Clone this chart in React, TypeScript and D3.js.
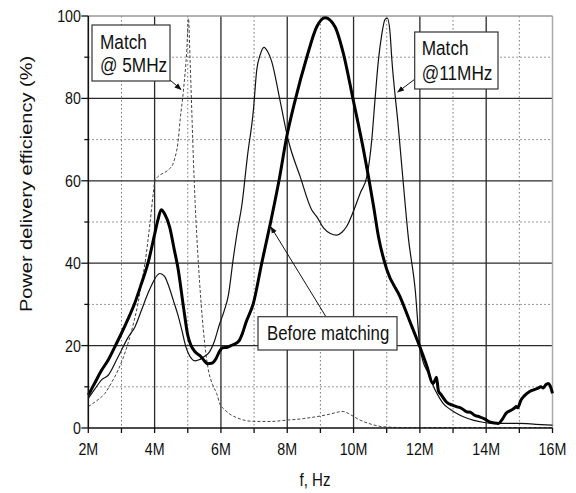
import React from 'react';
import * as d3 from 'd3';

// Frequency axis ticks (MHz) and efficiency ticks (%)
const xMajor = [2, 4, 6, 8, 10, 12, 14, 16];
const xMinor = [3, 5, 7, 9, 11, 13, 15];
const yMajor = [0, 20, 40, 60, 80, 100];
const yMinor = [10, 30, 50, 70, 90];

// Before matching (thick line)
const beforeF = [2.0, 2.2, 2.4, 2.6, 2.8, 3.0, 3.2, 3.4, 3.6, 3.8, 4.0, 4.1, 4.2, 4.3, 4.45, 4.6, 4.7, 4.87, 5.0, 5.1, 5.22, 5.4, 5.5, 5.6, 5.72, 5.85, 5.95, 6.05, 6.2, 6.3, 6.45, 6.55, 6.65, 6.75, 6.98, 7.23, 7.5, 7.75, 7.98, 8.24, 8.59, 8.89, 9.14, 9.44, 9.69, 9.99, 10.3, 10.6, 10.75, 11.0, 11.4, 11.76, 12.0, 12.2, 12.4, 12.45, 12.5, 12.56, 12.65, 12.8, 13.0, 13.1, 13.25, 13.4, 13.55, 13.65, 13.8, 13.95, 14.1, 14.25, 14.37, 14.5, 14.6, 14.75, 14.85, 14.9, 14.95, 15.05, 15.15, 15.3, 15.45, 15.55, 15.65, 15.72, 15.8, 15.87, 15.93, 16.0];
const beforeY = [8, 11, 14, 16.5, 19.7, 23, 26.5, 30.3, 35, 40, 47, 50.5, 53, 52, 48.9, 43, 39, 29.4, 22.5, 20, 18.5, 17.3, 16.3, 15.6, 15.7, 16.8, 18.5, 19.5, 19.6, 20, 20.5, 21.2, 23, 25.5, 30.3, 40, 50, 60, 70.5, 79.6, 90, 97.4, 99.6, 97.4, 91, 79.6, 67.5, 54, 46.5, 38.5, 31.9, 24.6, 19.7, 15.3, 10.8, 11.5, 12.3, 9, 8, 6.3, 5.5, 5.2, 4.8, 4.0, 3.7, 3.1, 2.7, 2.2, 1.5, 1.2, 1.1, 2.3, 3.6, 4.3, 4.8, 5.2, 4.9, 6.8, 7.8, 8.8, 9.3, 9.6, 10, 9.7, 10.5, 10.8, 10.2, 8.4];

// Match @11MHz (thin line)
const match11F = [2.0, 2.2, 2.4, 2.6, 2.9, 3.2, 3.41, 3.6, 3.76, 3.9, 4.01, 4.16, 4.3, 4.4, 4.56, 4.7, 4.82, 4.95, 5.02, 5.12, 5.22, 5.32, 5.42, 5.52, 5.62, 5.8, 5.95, 6.1, 6.22, 6.37, 6.5, 6.63, 6.8, 6.98, 7.08, 7.18, 7.3, 7.4, 7.53, 7.78, 8.03, 8.39, 8.74, 8.89, 9.1, 9.3, 9.49, 9.65, 9.79, 9.99, 10.2, 10.4, 10.55, 10.65, 10.75, 10.85, 10.95, 11.02, 11.1, 11.15, 11.35, 11.5, 11.65, 11.86, 12.0, 12.1, 12.26, 12.46, 12.6, 12.7, 12.9, 13.1, 13.35, 13.6, 13.9, 14.2, 14.6, 15.0, 15.5, 16.0];
const match11Y = [7.2, 9.5, 11.7, 12.8, 17.3, 22, 24.6, 28.5, 31.9, 34.5, 36.3, 37.5, 36.8, 35, 31.1, 27.5, 23.8, 19.5, 18.1, 16.8, 16.3, 16.5, 16.9, 17.5, 18.1, 21, 25, 28.5, 32, 41, 48, 54, 66, 77.2, 86.9, 90.5, 92.4, 91.5, 89, 79.6, 69.9, 61, 52.9, 51.3, 48.5, 47.2, 46.8, 47.5, 48.9, 52.5, 57, 61, 70, 80, 89.3, 95.5, 99.2, 99.5, 96, 90, 73.1, 59.4, 46.4, 33.5, 19.7, 16, 13.3, 9.2, 7.2, 6, 4.6, 3.6, 2.6, 1.9, 1.4, 1.1, 1.1, 1.1, 0.9, 0.7];

// Match @ 5MHz (dashed line)
const match5F = [2.0, 2.25, 2.5, 2.7, 2.9, 3.05, 3.2, 3.35, 3.5, 3.6, 3.71, 3.86, 3.96, 4.01, 4.16, 4.3, 4.46, 4.55, 4.62, 4.7, 4.77, 4.87, 4.97, 5.02, 5.07, 5.12, 5.17, 5.22, 5.32, 5.47, 5.62, 5.75, 5.87, 5.97, 6.12, 6.3, 6.48, 6.7, 6.98, 7.5, 7.98, 8.5, 8.99, 9.3, 9.55, 9.69, 9.85, 10.0, 10.2, 10.5, 10.8, 11.1, 11.5, 16.0];
const match5Y = [5.2, 6.6, 8.4, 11, 14.1, 17, 20.6, 25, 30.3, 35, 40, 49.7, 57, 60, 61.4, 62, 63, 64, 65.8, 69, 74.8, 82, 91.7, 99.4, 89.3, 77.2, 65, 55, 40, 23.8, 14.1, 10.5, 8.4, 5.8, 4.4, 3.2, 2.5, 1.9, 1.6, 1.6, 1.9, 2.3, 2.9, 3.4, 3.9, 4.0, 3.5, 2.8, 1.9, 1.0, 0.4, 0.2, 0.1, 0.1];

const W = 576;
const H = 493;
const FONT = '"Liberation Sans", Arial, sans-serif';
const SQ = 0.84; // the picture is squeezed horizontally

const x = d3.scaleLinear().domain([2, 16]).range([88.3, 552.5]);
const y = d3.scaleLinear().domain([0, 100]).range([428, 16]);

const line = d3.line<[number, number]>()
  .x(d => x(d[0]))
  .y(d => y(d[1]))
  .curve(d3.curveMonotoneX);

const pts = (fs: number[], ys: number[]) => fs.map((f, i) => [f, ys[i]] as [number, number]);

const T = ({ px, py, size, anchor = 'start', children, rot = false }: any) => (
  <text
    transform={`translate(${px},${py}) scale(${SQ},1)${rot ? ' rotate(-90)' : ''}`}
    fontFamily={FONT}
    fontSize={size}
    textAnchor={anchor}
    fill="#111"
  >
    {children}
  </text>
);

const fmtM = (v: number) => `${v}M`;

export default function App() {
  const x0 = x(2), x1 = x(16), y0 = y(0), y1 = y(100);
  return (
    <svg width={W} height={H} style={{ position: 'absolute', left: 0, top: 0, background: '#fff' }}>
      <defs>
        <marker id="ah" viewBox="0 0 10 10" refX="9" refY="5" markerWidth="7" markerHeight="7" orient="auto-start-reverse">
          <path d="M0,1 L10,5 L0,9 z" fill="#111" />
        </marker>
      </defs>

      {/* minor dotted grid */}
      {xMinor.map(v => (
        <line key={'xm' + v} x1={x(v)} x2={x(v)} y1={y1} y2={y0} stroke="#777" strokeWidth={1} strokeDasharray="1.5,2.5" />
      ))}
      {yMinor.map(v => (
        <line key={'ym' + v} x1={x0} x2={x1} y1={y(v)} y2={y(v)} stroke="#777" strokeWidth={1} strokeDasharray="1.5,2.5" />
      ))}

      {/* major grid */}
      {xMajor.slice(1, -1).map(v => (
        <line key={'xM' + v} x1={x(v)} x2={x(v)} y1={y1} y2={y0} stroke="#2a2a2a" strokeWidth={1.3} />
      ))}
      {yMajor.slice(1, -1).map(v => (
        <line key={'yM' + v} x1={x0} x2={x1} y1={y(v)} y2={y(v)} stroke="#2a2a2a" strokeWidth={1.3} />
      ))}

      {/* frame */}
      <line x1={x0} x2={x1} y1={y1} y2={y1} stroke="#999" strokeWidth={1.3} />
      <line x1={x1} x2={x1} y1={y1} y2={y0} stroke="#aaa" strokeWidth={1.5} />

      {/* curves */}
      <path d={line(pts(match5F, match5Y)) || ''} fill="none" stroke="#444" strokeWidth={1} strokeDasharray="3,2" />
      <path d={line(pts(match11F, match11Y)) || ''} fill="none" stroke="#111" strokeWidth={1.2} />
      <path d={line(pts(beforeF, beforeY)) || ''} fill="none" stroke="#000" strokeWidth={3} strokeLinejoin="round" />

      {/* axes */}
      <line x1={x0} x2={x1} y1={y0} y2={y0} stroke="#111" strokeWidth={1.6} />
      <line x1={x0} x2={x0} y1={y1} y2={y0} stroke="#111" strokeWidth={1.6} />
      {xMajor.concat(xMinor).map(v => (
        <line key={'xt' + v} x1={x(v)} x2={x(v)} y1={y0} y2={y0 + 5} stroke="#111" strokeWidth={1.3} />
      ))}
      {yMajor.map(v => (
        <line key={'yt' + v} x1={x0 - 7} x2={x0} y1={y(v)} y2={y(v)} stroke="#111" strokeWidth={1.3} />
      ))}
      {yMinor.map(v => (
        <line key={'yt' + v} x1={x0 - 4} x2={x0} y1={y(v)} y2={y(v)} stroke="#111" strokeWidth={1.3} />
      ))}

      {/* tick labels */}
      {xMajor.map(v => (
        <T key={'xl' + v} px={x(v)} py={455} size={17} anchor="middle">{fmtM(v)}</T>
      ))}
      {yMajor.map(v => (
        <T key={'yl' + v} px={81} py={y(v) + 6} size={17} anchor="end">{v}</T>
      ))}

      {/* axis titles */}
      <T px={315} py={486} size={18} anchor="middle">f, Hz</T>
      <g transform={`translate(32,184) scale(${SQ},1) rotate(-90)`}>
        <text fontFamily={FONT} fontSize={20} textAnchor="middle" fill="#111">Power delivery efficiency (%)</text>
      </g>

      {/* annotations */}
      <line x1={170} y1={80} x2={181} y2={89.5} stroke="#111" strokeWidth={1} markerEnd="url(#ah)" />
      <rect x={92} y={25} width={78} height={56} fill="#fff" stroke="#333" strokeWidth={1.2} />
      <T px={100} py={48.5} size={20.5}>Match</T>
      <T px={100} py={71.5} size={20.5}>@ 5MHz</T>

      <line x1={414.7} y1={79.3} x2={397.7} y2={92} stroke="#111" strokeWidth={1} markerEnd="url(#ah)" />
      <rect x={414.7} y={32} width={83.3} height={57} fill="#fff" stroke="#333" strokeWidth={1.2} />
      <T px={421.7} py={55} size={20.5}>Match</T>
      <T px={421.7} py={80} size={20.5}>@11MHz</T>

      <line x1={325.5} y1={316} x2={271} y2={227} stroke="#111" strokeWidth={1} markerEnd="url(#ah)" />
      <rect x={258} y={316.7} width={139} height={33.3} fill="#fff" stroke="#333" strokeWidth={1.2} />
      <T px={267} py={340} size={20}>Before matching</T>
    </svg>
  );
}
